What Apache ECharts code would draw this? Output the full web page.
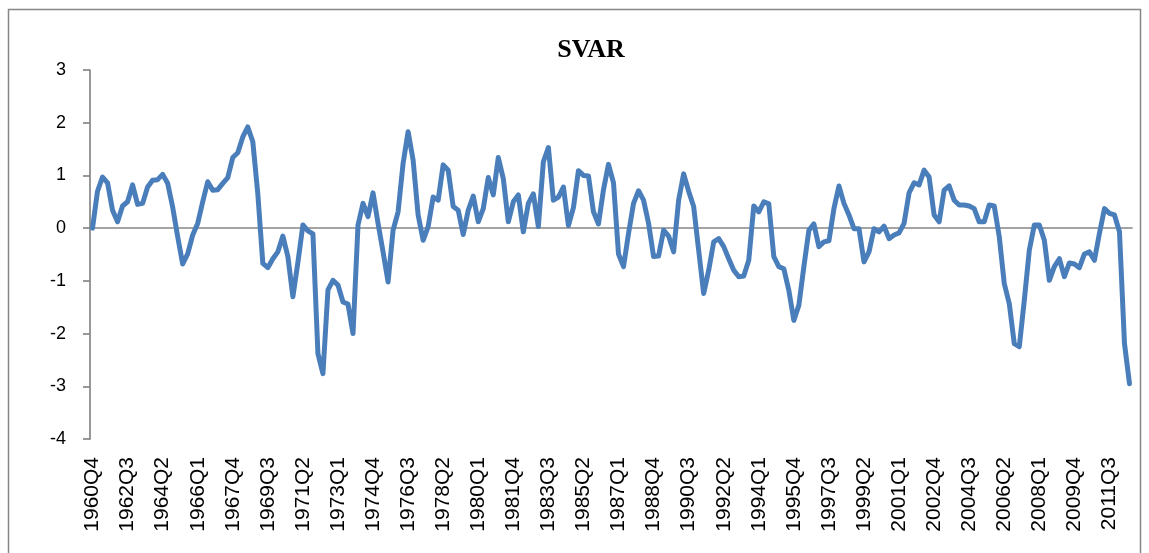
<!DOCTYPE html>
<html>
<head>
<meta charset="utf-8">
<script src="https://cdn.jsdelivr.net/npm/echarts@6/dist/echarts.min.js"></script>
<style>
html,body{margin:0;padding:0;background:#fff;}
#chart{width:1149px;height:553px;}
</style>
</head>
<body>
<div id="chart"></div>
<script>
// Quarterly categories: 1960Q4 .. 2012Q3
const startYear = 1960, startQuarter = 4, nQuarters = 208;
const categories = [];
for (let k = 0; k < nQuarters; k++) {
  const q0 = (startQuarter - 1) + k;
  categories.push((startYear + Math.floor(q0 / 4)) + 'Q' + (q0 % 4 + 1));
}

// SVAR values, in chunks
const svarA = [0, 0.7, 0.97, 0.86, 0.34, 0.12, 0.42, 0.5, 0.82, 0.45, 0.47, 0.78, 0.91, 0.92, 1.02, 0.85, 0.4, -0.16, -0.68, -0.49, -0.13, 0.09, 0.5, 0.88, 0.72, 0.73, 0.85, 0.96, 1.34, 1.43, 1.73, 1.92, 1.64, 0.65, -0.67];
const svarB = [-0.75, -0.58, -0.45, -0.15, -0.54, -1.3, -0.65, 0.06, -0.05, -0.11, -2.38, -2.76, -1.17, -0.99, -1.08, -1.4, -1.44, -2.0, 0.06, 0.47, 0.22, 0.67, 0.09, -0.45, -1.02, -0.04, 0.31, 1.23, 1.83, 1.29, 0.25, -0.23, 0.03, 0.59, 0.53];
const svarC = [1.2, 1.1, 0.41, 0.34, -0.12, 0.34, 0.61, 0.12, 0.37, 0.96, 0.63, 1.34, 0.94, 0.12, 0.5, 0.63, -0.07, 0.47, 0.65, 0.03, 1.26, 1.53, 0.53, 0.59, 0.78, 0.05, 0.39, 1.09, 1.0, 0.99, 0.31, 0.08, 0.73, 1.21, 0.86];
const svarD = [-0.49, -0.73, -0.1, 0.47, 0.71, 0.53, 0.09, -0.54, -0.53, -0.04, -0.15, -0.45, 0.53, 1.03, 0.7, 0.41, -0.42, -1.24, -0.8, -0.26, -0.2, -0.35, -0.58, -0.8, -0.92, -0.91, -0.61, 0.42, 0.31, 0.5, 0.46, -0.54, -0.73, -0.77, -1.18];
const svarE = [-1.75, -1.46, -0.73, -0.04, 0.08, -0.35, -0.26, -0.24, 0.37, 0.8, 0.47, 0.25, -0.01, -0.01, -0.64, -0.45, -0.01, -0.07, 0.04, -0.2, -0.13, -0.09, 0.09, 0.67, 0.86, 0.82, 1.1, 0.97, 0.25, 0.12, 0.72, 0.8, 0.53, 0.44, 0.44];
const svarF = [0.42, 0.37, 0.12, 0.12, 0.44, 0.42, -0.16, -1.05, -1.43, -2.19, -2.25, -1.37, -0.42, 0.06, 0.06, -0.23, -0.99, -0.73, -0.58, -0.92, -0.66, -0.68, -0.75, -0.49, -0.45, -0.61, -0.1, 0.37, 0.28, 0.25, -0.07, -2.19, -2.95];
const svar = svarA.concat(svarB, svarC, svarD, svarE, svarF);

const yTicks = [-4, -3, -2, -1, 0, 1, 2, 3];

const axisGray = '#868686';
const chart = echarts.init(document.getElementById('chart'));
chart.setOption({
  animation: false,
  backgroundColor: '#ffffff',
  title: {
    text: 'SVAR',
    left: 586, top: 32,
    textAlign: 'center',
    textStyle: { fontFamily: 'Liberation Serif', fontWeight: 'bold', fontSize: 26, color: '#000' }
  },
  graphic: [{
    type: 'rect',
    shape: { x: 8.5, y: 9.5, width: 1132, height: 560 },
    style: { fill: 'none', stroke: axisGray, lineWidth: 1.5 },
    silent: true
  }],
  grid: { left: 90, right: 17, top: 70, bottom: 114 },
  xAxis: [{
    type: 'category',
    data: categories,
    boundaryGap: true,
    position: 'bottom',
    axisLine: { show: false, onZero: false },
    axisTick: { show: false },
    axisLabel: {
      interval: 6,
      rotate: 90,
      margin: 18,
      fontFamily: 'Liberation Sans',
      fontSize: 21,
      color: '#000'
    },
    splitLine: { show: false }
  }, {
    type: 'category',
    data: categories,
    boundaryGap: true,
    position: 'bottom',
    axisLine: { show: true, onZero: true, lineStyle: { color: axisGray, width: 1.7 } },
    axisTick: { show: false },
    axisLabel: { show: false },
    splitLine: { show: false }
  }],
  yAxis: {
    type: 'value',
    min: yTicks[0],
    max: yTicks[yTicks.length - 1],
    interval: 1,
    axisLine: { show: true, lineStyle: { color: axisGray, width: 1.7 } },
    axisTick: { show: true, inside: false, length: 7, lineStyle: { color: axisGray, width: 1.7 } },
    axisLabel: { margin: 24, fontFamily: 'Liberation Sans', fontSize: 18, color: '#000' },
    splitLine: { show: false }
  },
  series: [{
    type: 'line',
    name: 'SVAR',
    xAxisIndex: 0,
    data: svar,
    showSymbol: false,
    symbol: 'none',
    smooth: false,
    lineStyle: { color: '#4a7ebb', width: 5, join: 'round', cap: 'round' },
    z: 3
  }]
});
</script>
</body>
</html>
